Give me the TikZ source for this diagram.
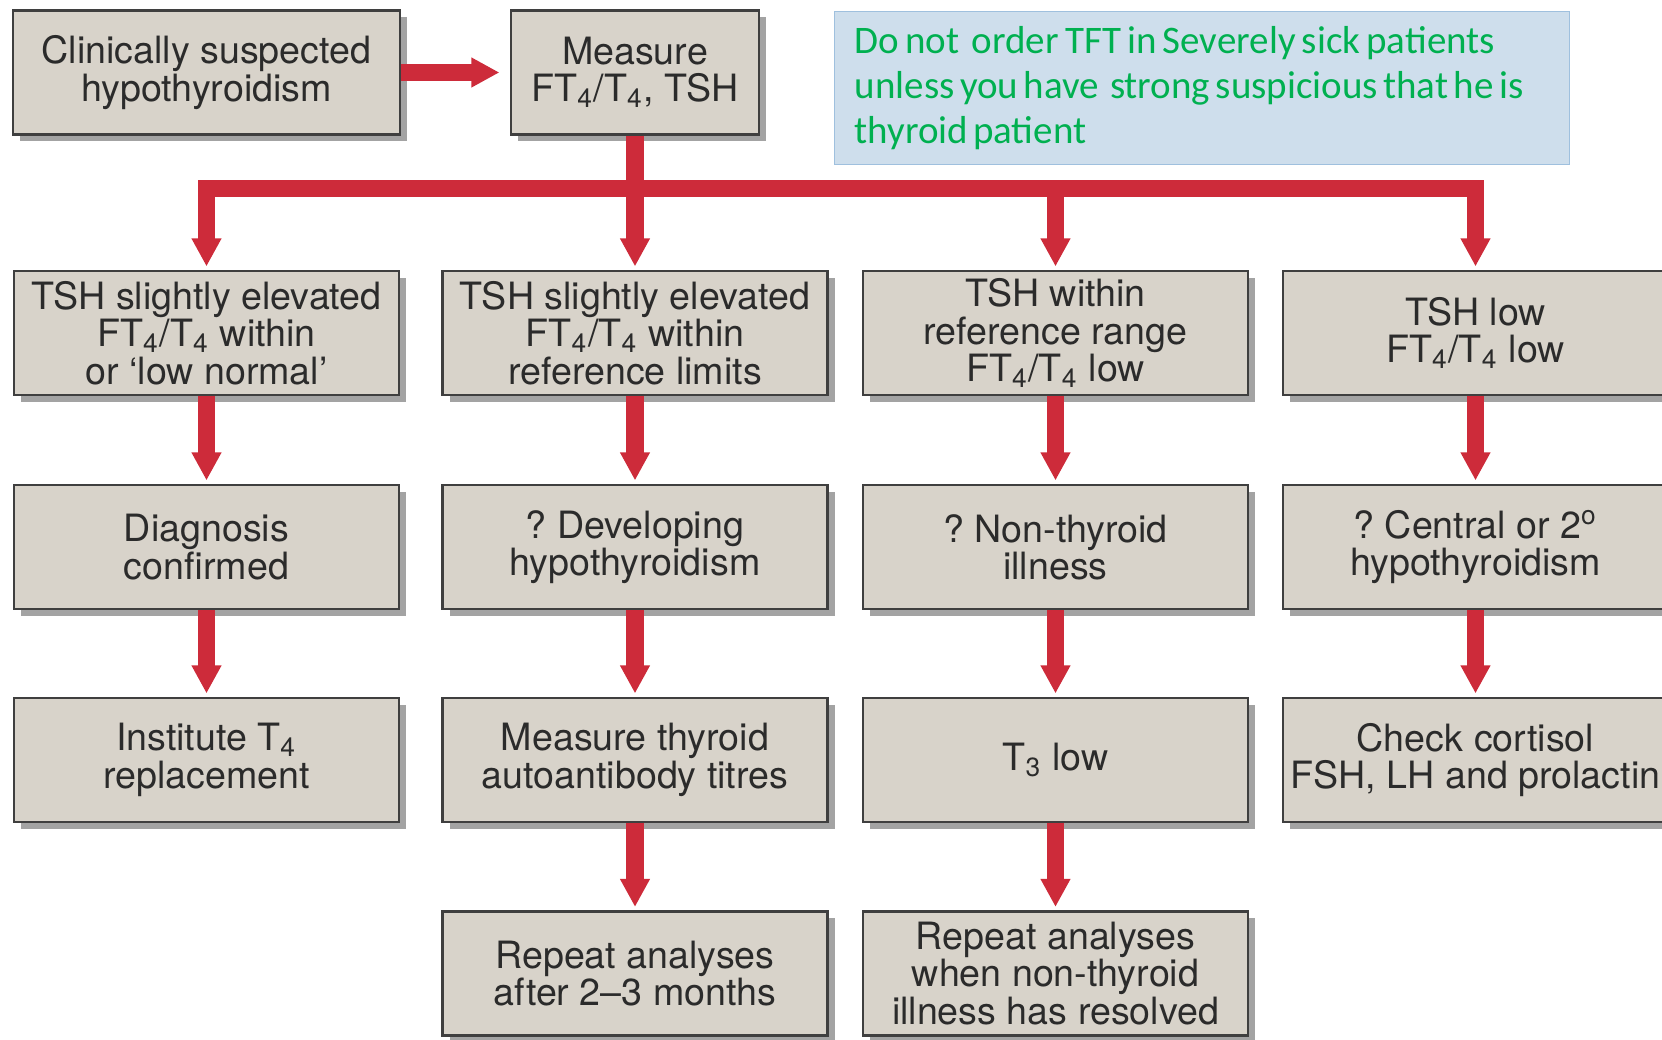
\documentclass[tikz,border=0pt]{standalone}
\usepackage{fontspec}
\setmainfont{TeX Gyre Heros}
\newfontfamily\notefont{Carlito}
\usetikzlibrary{arrows.meta,shadows}
\definecolor{boxfill}{HTML}{D8D3CA}
\definecolor{boxline}{HTML}{3F3F3F}
\definecolor{arrowred}{HTML}{CD2B3A}
\definecolor{notefill}{HTML}{CEDEEC}
\definecolor{noteline}{HTML}{9FC0DE}
\definecolor{notetext}{HTML}{00B050}
\definecolor{textgray}{HTML}{2B2B2B}
\frenchspacing

\begin{document}
\begin{tikzpicture}[box/.style={draw=boxline, line width=0.6pt, fill=boxfill, minimum width=3.85cm, minimum height=1.24cm, inner xsep=2pt, inner ysep=1pt, align=center, text=textgray, font=\fontsize{10.7}{10.6}\selectfont, drop shadow={shadow xshift=0.07cm, shadow yshift=-0.07cm, fill=black!40, opacity=0.9}}, note/.style={draw=noteline, fill=notefill, text=notetext, minimum width=7.35cm, minimum height=1.53cm, text width=6.95cm, inner xsep=0.2cm, align=left, font=\notefont\fontsize{11.1}{12.7}\selectfont}, flow/.style={draw=arrowred, line width=5pt, -{Triangle[width=8pt,length=8pt]}, shorten >=1pt}, trunk/.style={draw=arrowred, line width=5pt}]
\useasboundingbox (0,0) rectangle (16.62,-10.40);
\clip (0,0) rectangle (16.62,-10.40);
% top row
\node[box, minimum width=3.87cm] (susp) at (2.065,-0.725) {Clinically suspected\\hypothyroidism};
\node[box, minimum width=2.48cm] (meas) at (6.35,-0.725) {Measure\\FT\textsubscript{4}/T\textsubscript{4}, TSH};
\node[note, anchor=north west] (note) at (8.34,-0.11) {\spaceskip=1.4pt plus 0.5pt\relax Do not \ order TFT in Severely sick patients unless you have \ strong suspicious that he is thyroid patient};
% results
\node[box] (t1) at (2.065,-3.33) {TSH slightly elevated\\FT\textsubscript{4}/T\textsubscript{4} within\\or ‘low normal’};
\node[box] (t2) at (6.35,-3.33) {TSH slightly elevated\\FT\textsubscript{4}/T\textsubscript{4} within\\reference limits};
\node[box] (t3) at (10.555,-3.33) {TSH within\\reference range\\FT\textsubscript{4}/T\textsubscript{4} low};
\node[box] (t4) at (14.755,-3.33) {TSH low\\FT\textsubscript{4}/T\textsubscript{4} low};
% interpretation
\node[box] (d1) at (2.065,-5.47) {Diagnosis\\confirmed};
\node[box] (d2) at (6.35,-5.47) {? Developing\\hypothyroidism};
\node[box] (d3) at (10.555,-5.47) {? Non-thyroid\\illness};
\node[box] (d4) at (14.755,-5.47) {? Central or 2\textsuperscript{o}\\hypothyroidism};
% action
\node[box] (a1) at (2.065,-7.60) {Institute T\textsubscript{4}\\replacement};
\node[box] (a2) at (6.35,-7.60) {Measure thyroid\\autoantibody titres};
\node[box] (a3) at (10.555,-7.60) {T\textsubscript{3} low};
\node[box] (a4) at (14.755,-7.60) {Check cortisol\\FSH, LH and prolactin};
% follow up
\node[box] (r2) at (6.35,-9.735) {Repeat analyses\\after 2–3 months};
\node[box] (r3) at (10.555,-9.735) {Repeat analyses\\when non-thyroid\\illness has resolved};
% connectors
\draw[flow, shorten >=3pt] (susp) -- (meas);
\path (meas.south) ++(0,-0.53) coordinate (hub);
\draw[trunk] (meas.south) -- (hub);
\draw[flow] (hub) -| (t1);
\draw[flow] (hub) -- (t2);
\draw[flow] (hub) -| (t3);
\draw[flow] (hub) -| (t4);
\foreach \u/\v in {t1/d1,d1/a1,t2/d2,d2/a2,a2/r2,t3/d3,d3/a3,a3/r3,t4/d4,d4/a4}
  \draw[flow] (\u) -- (\v);
\end{tikzpicture}
\end{document}
